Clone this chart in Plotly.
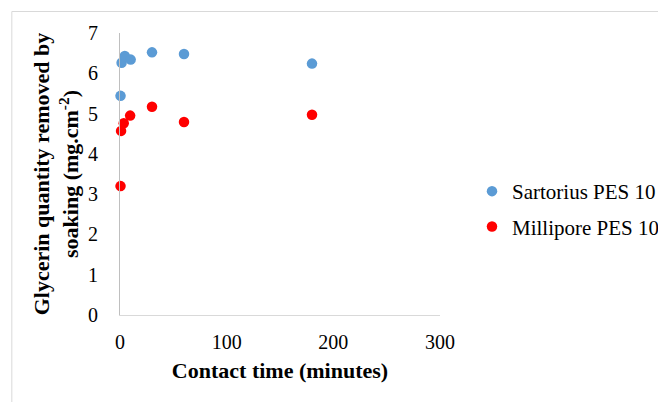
import plotly.graph_objects as go

# Data
sartorius_time = [0.5, 1.5, 4.5, 10, 30, 60, 180]
sartorius_glycerin = [5.44, 6.26, 6.43, 6.34, 6.52, 6.48, 6.24]
millipore_time = [0.5, 1, 3.5, 9.5, 30, 60, 180]
millipore_glycerin = [3.20, 4.57, 4.76, 4.95, 5.17, 4.79, 4.97]
series_names = ["Sartorius PES 10", "Millipore PES 10"]
x_ticks = [0, 100, 200, 300]
y_ticks = [0, 1, 2, 3, 4, 5, 6, 7]

# page body has an 8px margin, so the figure is drawn at (8, 8)
OFF = 8
W, H = 666 - OFF, 402 - OFF
L, T = 119.5 - OFF, 33 - OFF
pw, ph = 321, 282
R, B = W - L - pw, H - T - ph

def px_x(p):
    return (p - OFF - L) / pw

def px_y(p):
    return (T + ph - (p - OFF)) / ph

FF = "Liberation Serif"

fig = go.Figure()
fig.add_trace(go.Scatter(x=sartorius_time, y=sartorius_glycerin, mode="markers",
                         name=series_names[0], legendgroup="a",
                         marker=dict(color="#5B9BD5", size=10.5), cliponaxis=False))
fig.add_trace(go.Scatter(x=millipore_time, y=millipore_glycerin, mode="markers",
                         name=series_names[1], legendgroup="b",
                         marker=dict(color="#FF0000", size=10.5), cliponaxis=False))

fig.update_layout(
    width=W, height=H,
    margin=dict(l=L, r=R, t=T, b=B),
    paper_bgcolor="white", plot_bgcolor="white",
    font=dict(family=FF, size=20, color="#000000"),
    showlegend=True,
    legend=dict(xref="container", yref="container",
                x=(472 - OFF) / W, y=1 - (171 - OFF) / H,
                xanchor="left", yanchor="top",
                font=dict(size=21, family=FF),
                traceorder="grouped", tracegroupgap=5,
                bgcolor="rgba(0,0,0,0)"),
    xaxis=dict(range=[0, 300], tickvals=x_ticks, showgrid=False, zeroline=False,
               showline=True, linecolor="#d9d9d9", linewidth=1,
               ticks="", ticklabelstandoff=9, automargin=False,
               tickfont=dict(size=20, family=FF),
               title=dict(text="<b>Contact time (minutes)</b>", standoff=10,
                          font=dict(size=22, family=FF))),
    yaxis=dict(range=[0, 7], tickvals=y_ticks, showgrid=False, zeroline=False,
               showline=True, linecolor="#bfbfbf", linewidth=1,
               ticks="", ticklabelstandoff=17, automargin=False,
               tickfont=dict(size=20, family=FF),
               title=dict(text="<b>Glycerin quantity removed by<br>soaking (mg.cm<sup>-2</sup>)</b>",
                          standoff=3, font=dict(size=22, family=FF))),
    shapes=[dict(type="rect", xref="paper", yref="paper",
                 x0=px_x(11), x1=px_x(700), y0=px_y(420), y1=px_y(11.5),
                 line=dict(color="#d9d9d9", width=1), fillcolor="rgba(0,0,0,0)",
                 layer="below")],
)

fig.write_html("out.html")
